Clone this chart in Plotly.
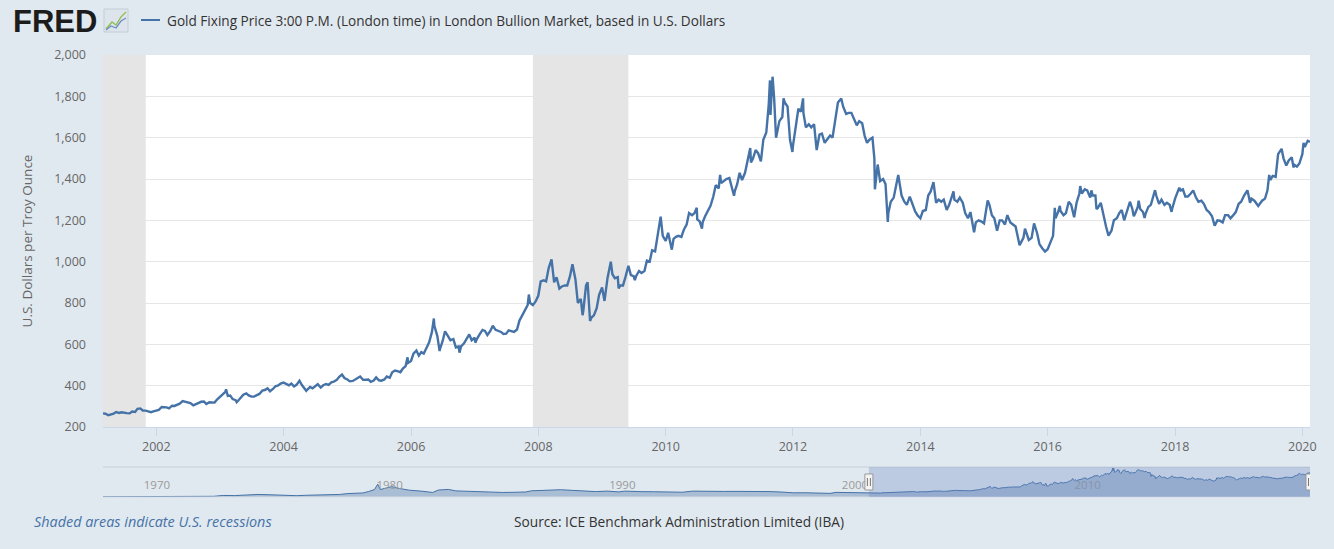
import plotly.graph_objects as go

# ---------------- data ----------------
dates = [
    # 2001
    "2001-03-01","2001-03-15","2001-04-01","2001-04-15","2001-05-01","2001-05-15","2001-06-01","2001-06-15",
    "2001-07-01","2001-07-15","2001-08-01","2001-08-15","2001-09-01","2001-09-15","2001-10-01","2001-10-15",
    "2001-11-01","2001-11-15","2001-12-01","2001-12-15",
    # 2002
    "2002-01-01","2002-01-15","2002-02-01","2002-02-15","2002-03-01","2002-03-15","2002-04-01","2002-04-15",
    "2002-05-01","2002-05-15","2002-06-01","2002-06-15","2002-07-01","2002-07-15","2002-08-01","2002-08-15",
    "2002-09-01","2002-09-15","2002-10-01","2002-10-15","2002-11-01","2002-11-15","2002-12-01","2002-12-15",
    # 2003
    "2003-01-01","2003-01-15","2003-02-01","2003-02-05","2003-02-15","2003-03-01","2003-03-15","2003-04-01",
    "2003-04-07","2003-04-15","2003-05-01","2003-05-15","2003-06-01","2003-06-15","2003-07-01","2003-07-15",
    "2003-08-01","2003-08-15","2003-09-01","2003-09-15","2003-10-01","2003-10-15","2003-11-01","2003-11-15",
    "2003-12-01","2003-12-15",
    # 2004
    "2004-01-01","2004-01-15","2004-02-01","2004-02-15","2004-03-01","2004-03-15","2004-04-01","2004-04-15",
    "2004-05-01","2004-05-10","2004-05-15","2004-06-01","2004-06-15","2004-07-01","2004-07-15","2004-08-01",
    "2004-08-15","2004-09-01","2004-09-15","2004-10-01","2004-10-15","2004-11-01","2004-11-15","2004-12-01",
    "2004-12-15",
    # 2005
    "2005-01-01","2005-01-15","2005-02-01","2005-02-15","2005-03-01","2005-03-15","2005-04-01","2005-04-15",
    "2005-05-01","2005-05-15","2005-06-01","2005-06-15","2005-07-01","2005-07-15","2005-08-01","2005-08-15",
    "2005-09-01","2005-09-15","2005-10-01","2005-10-15","2005-11-01","2005-11-15","2005-12-01","2005-12-12",
    "2005-12-15",
    # 2006
    "2006-01-01","2006-01-15","2006-02-01","2006-02-15","2006-03-01","2006-03-15","2006-04-01","2006-04-15",
    "2006-05-01","2006-05-12","2006-05-15","2006-06-01","2006-06-14","2006-06-15","2006-07-01","2006-07-15",
    "2006-08-01","2006-08-15","2006-09-01","2006-09-15","2006-10-01","2006-10-06","2006-10-15","2006-11-01",
    "2006-11-15","2006-12-01","2006-12-15",
    # 2007
    "2007-01-01","2007-01-05","2007-01-15","2007-02-01","2007-02-15","2007-03-01","2007-03-15","2007-04-01",
    "2007-04-15","2007-05-01","2007-05-15","2007-06-01","2007-06-15","2007-07-01","2007-07-15","2007-08-01",
    "2007-08-15","2007-09-01","2007-09-15","2007-10-01","2007-10-15","2007-11-01","2007-11-08","2007-11-15",
    "2007-12-01","2007-12-15",
    # 2008
    "2008-01-01","2008-01-15","2008-02-01","2008-02-15","2008-03-01","2008-03-17","2008-04-01","2008-04-15",
    "2008-05-01","2008-05-15","2008-06-01","2008-06-15","2008-07-01","2008-07-15","2008-08-01","2008-08-15",
    "2008-09-01","2008-09-11","2008-09-15","2008-10-01","2008-10-10","2008-10-15","2008-10-24","2008-11-01",
    "2008-11-15","2008-12-01","2008-12-15",
    # 2009
    "2009-01-01","2009-01-15","2009-02-01","2009-02-20","2009-03-01","2009-03-15","2009-04-01","2009-04-06",
    "2009-04-15","2009-05-01","2009-05-15","2009-06-01","2009-06-15","2009-07-01","2009-07-08","2009-07-15",
    "2009-08-01","2009-08-15","2009-09-01","2009-09-15","2009-10-01","2009-10-15","2009-11-01","2009-11-15",
    "2009-12-01","2009-12-03","2009-12-15",
    # 2010
    "2010-01-01","2010-01-15","2010-02-01","2010-02-05","2010-02-15","2010-03-01","2010-03-15","2010-04-01",
    "2010-04-15","2010-05-01","2010-05-15","2010-06-01","2010-06-15","2010-06-28","2010-07-01","2010-07-15",
    "2010-07-28","2010-08-01","2010-08-15","2010-09-01","2010-09-15","2010-10-01","2010-10-15","2010-11-01",
    "2010-11-09","2010-11-15","2010-12-01","2010-12-15",
    # 2011
    "2011-01-01","2011-01-15","2011-01-28","2011-02-01","2011-02-15","2011-03-01","2011-03-15","2011-04-01",
    "2011-04-15","2011-05-01","2011-05-05","2011-05-15","2011-06-01","2011-06-15","2011-07-01","2011-07-15",
    "2011-08-01","2011-08-15","2011-08-22","2011-08-25","2011-09-01","2011-09-06","2011-09-15","2011-09-26",
    "2011-10-01","2011-10-15","2011-11-01","2011-11-08","2011-11-15","2011-12-01","2011-12-15","2011-12-29",
    # 2012
    "2012-01-01","2012-01-15","2012-02-01","2012-02-15","2012-02-28","2012-03-01","2012-03-15","2012-04-01",
    "2012-04-15","2012-05-01","2012-05-16","2012-06-01","2012-06-15","2012-07-01","2012-07-15","2012-08-01",
    "2012-08-15","2012-09-01","2012-09-15","2012-10-04","2012-10-15","2012-11-01","2012-11-15","2012-12-01",
    "2012-12-15",
    # 2013
    "2013-01-01","2013-01-15","2013-02-01","2013-02-15","2013-03-01","2013-03-15","2013-04-01","2013-04-12",
    "2013-04-15","2013-05-01","2013-05-15","2013-06-01","2013-06-15","2013-06-28","2013-07-01","2013-07-15",
    "2013-08-01","2013-08-27","2013-09-01","2013-09-15","2013-10-01","2013-10-15","2013-11-01","2013-11-15",
    "2013-12-01","2013-12-15",
    # 2014
    "2014-01-01","2014-01-15","2014-02-01","2014-02-15","2014-03-01","2014-03-17","2014-04-01","2014-04-15",
    "2014-05-01","2014-05-15","2014-06-01","2014-06-15","2014-07-01","2014-07-10","2014-07-15","2014-08-01",
    "2014-08-15","2014-09-01","2014-09-15","2014-10-01","2014-10-15","2014-11-01","2014-11-05","2014-11-15",
    "2014-12-01","2014-12-15",
    # 2015
    "2015-01-01","2015-01-15","2015-01-22","2015-02-01","2015-02-15","2015-03-01","2015-03-17","2015-04-01",
    "2015-04-15","2015-05-01","2015-05-15","2015-06-01","2015-06-15","2015-07-01","2015-07-24","2015-08-01",
    "2015-08-15","2015-08-24","2015-09-01","2015-09-15","2015-10-01","2015-10-15","2015-11-01","2015-11-15",
    "2015-12-01","2015-12-17",
    # 2016
    "2016-01-01","2016-01-15","2016-02-01","2016-02-11","2016-02-15","2016-03-01","2016-03-11","2016-03-15",
    "2016-04-01","2016-04-15","2016-05-01","2016-05-15","2016-06-01","2016-06-15","2016-07-01","2016-07-06",
    "2016-07-15","2016-08-01","2016-08-15","2016-09-01","2016-09-08","2016-09-15","2016-10-01","2016-10-07",
    "2016-10-15","2016-11-01","2016-11-15","2016-12-01","2016-12-15",
    # 2017
    "2017-01-01","2017-01-15","2017-02-01","2017-02-15","2017-03-01","2017-03-15","2017-04-01","2017-04-17",
    "2017-05-01","2017-05-09","2017-05-15","2017-06-01","2017-06-06","2017-06-15","2017-07-01","2017-07-10",
    "2017-07-15","2017-08-01","2017-08-15","2017-09-01","2017-09-08","2017-09-15","2017-10-01","2017-10-15",
    "2017-11-01","2017-11-15","2017-12-01","2017-12-12","2017-12-15",
    # 2018
    "2018-01-01","2018-01-25","2018-02-01","2018-02-15","2018-03-01","2018-03-15","2018-04-01","2018-04-15",
    "2018-05-01","2018-05-15","2018-06-01","2018-06-15","2018-07-01","2018-07-15","2018-08-01","2018-08-16",
    "2018-09-01","2018-09-15","2018-10-01","2018-10-15","2018-11-01","2018-11-15","2018-12-01","2018-12-15",
    # 2019
    "2019-01-01","2019-01-15","2019-02-01","2019-02-20","2019-03-01","2019-03-07","2019-03-15","2019-04-01",
    "2019-04-23","2019-05-01","2019-05-15","2019-06-01","2019-06-15","2019-06-25","2019-07-01","2019-07-15",
    "2019-08-01","2019-08-15","2019-09-04","2019-09-15","2019-10-01","2019-10-15","2019-11-01","2019-11-12",
    "2019-11-15","2019-12-01","2019-12-15",
    # 2020
    "2020-01-01","2020-01-08","2020-01-15","2020-02-01","2020-02-14",
]

prices = [
    # 2001
    266, 264, 257, 260, 264, 272, 268, 271, 267, 267, 266, 275, 273, 288, 290, 280, 279, 274, 272, 276,
    # 2002
    278, 283, 297, 297, 295, 290, 303, 302, 309, 313, 325, 322, 317, 316, 305, 311, 315, 322, 323, 311,
    320, 319, 318, 333,
    # 2003
    345, 357, 370, 382, 350, 352, 335, 330, 320, 327, 340, 356, 363, 353, 347, 347, 354, 360, 376, 379,
    387, 373, 384, 397, 401, 410,
    # 2004
    415, 410, 402, 410, 396, 404, 424, 403, 385, 375, 380, 394, 387, 396, 407, 391, 402, 408, 404, 416,
    419, 428, 443, 454, 437,
    # 2005
    430, 421, 423, 429, 436, 444, 428, 429, 430, 419, 425, 440, 426, 424, 430, 444, 438, 465, 473, 470,
    465, 483, 495, 537, 510,
    # 2006
    520, 555, 570, 545, 562, 555, 585, 610, 660, 725, 690, 640, 567, 575, 615, 663, 640, 620, 625, 585,
    590, 560, 590, 605, 625, 648, 620,
    # 2007
    632, 608, 628, 652, 670, 665, 645, 665, 690, 670, 665, 660, 650, 652, 668, 665, 660, 672, 715, 740,
    760, 790, 841, 800, 790, 805,
    # 2008
    835, 905, 910, 905, 970, 1011, 900, 925, 870, 880, 885, 885, 930, 988, 915, 800, 820, 741, 760, 885,
    900, 840, 713, 730, 740, 775, 840,
    # 2009
    875, 810, 920, 1000, 940, 920, 925, 870, 885, 885, 925, 980, 935, 930, 910, 930, 955, 945, 955, 1005,
    1000, 1055, 1050, 1120, 1195, 1218, 1125,
    # 2010
    1100, 1140, 1085, 1058, 1110, 1120, 1125, 1120, 1155, 1180, 1235, 1225, 1235, 1261, 1205, 1195,
    1160, 1190, 1220, 1250, 1270, 1315, 1370, 1355, 1420, 1380, 1390, 1400,
    # 2011
    1405, 1365, 1319, 1340, 1375, 1430, 1395, 1430, 1480, 1550, 1480, 1495, 1540, 1525, 1485, 1590,
    1625, 1760, 1877, 1710, 1825, 1895, 1790, 1600, 1620, 1680, 1700, 1790, 1770, 1750, 1590, 1531,
    # 2012
    1560, 1640, 1740, 1725, 1790, 1720, 1650, 1665, 1650, 1665, 1540, 1615, 1620, 1575, 1590, 1610,
    1600, 1690, 1770, 1790, 1750, 1715, 1720, 1720, 1695,
    # 2013
    1660, 1680, 1670, 1610, 1575, 1590, 1600, 1500, 1350, 1470, 1390, 1400, 1375, 1192, 1235, 1290,
    1310, 1420, 1395, 1320, 1290, 1275, 1315, 1280, 1245, 1225,
    # 2014
    1210, 1245, 1250, 1320, 1340, 1385, 1285, 1300, 1290, 1300, 1250, 1275, 1325, 1340, 1300, 1290,
    1310, 1285, 1235, 1210, 1240, 1165, 1142, 1190, 1200, 1195,
    # 2015
    1185, 1260, 1296, 1275, 1225, 1210, 1150, 1200, 1200, 1180, 1225, 1190, 1180, 1170, 1080, 1095,
    1115, 1160, 1135, 1105, 1115, 1185, 1140, 1085, 1065, 1049,
    # 2016
    1060, 1090, 1125, 1260, 1210, 1240, 1270, 1245, 1225, 1235, 1290, 1275, 1215, 1285, 1330, 1366,
    1330, 1350, 1345, 1310, 1345, 1320, 1320, 1255, 1260, 1285, 1225, 1170, 1126,
    # 2017
    1150, 1200, 1210, 1235, 1250, 1200, 1245, 1290, 1255, 1220, 1230, 1265, 1295, 1255, 1240, 1211,
    1230, 1265, 1275, 1320, 1346, 1320, 1280, 1300, 1275, 1285, 1275, 1241, 1255,
    # 2018
    1305, 1358, 1345, 1350, 1315, 1315, 1330, 1345, 1310, 1290, 1295, 1280, 1250, 1240, 1220, 1174,
    1200, 1198, 1190, 1225, 1225, 1210, 1225, 1240,
    # 2019
    1280, 1290, 1320, 1345, 1310, 1285, 1305, 1295, 1270, 1280, 1295, 1305, 1345, 1420, 1395, 1415,
    1410, 1520, 1546, 1500, 1465, 1490, 1505, 1455, 1470, 1460, 1475,
    # 2020
    1520, 1575, 1555, 1585, 1580,
]

# longer history shown only in the navigator strip
nav_dates = [
    "1968-04-01","1968-12-01","1969-06-01","1969-12-01","1970-06-01","1971-01-01","1971-06-01","1972-01-01",
    "1972-06-01","1973-01-01","1973-06-01","1973-12-01","1974-06-01","1974-12-01","1975-06-01","1975-12-01",
    "1976-08-01","1977-01-01","1977-06-01","1977-12-01","1978-06-01","1978-10-01","1979-03-01","1979-06-01",
    "1979-09-01","1979-12-01","1980-01-21","1980-03-01","1980-06-01","1980-09-01","1980-12-01","1981-06-01",
    "1981-12-01","1982-06-01","1982-09-01","1983-02-01","1983-06-01","1983-12-01","1984-06-01","1984-12-01",
    "1985-02-01","1985-06-01","1985-12-01","1986-06-01","1986-09-01","1987-06-01","1987-12-01","1988-06-01",
    "1988-12-01","1989-06-01","1989-12-01","1990-06-01","1990-09-01","1990-12-01","1991-06-01","1991-12-01",
    "1992-06-01","1992-12-01","1993-03-01","1993-08-01","1993-12-01","1994-06-01","1994-12-01","1995-06-01",
    "1995-12-01","1996-02-01","1996-06-01","1996-12-01","1997-06-01","1997-12-01","1998-06-01","1998-12-01",
    "1999-07-01","1999-10-01","2000-02-01","2000-06-01","2000-12-01","2001-02-01",
]
nav_prices = [
    38, 41, 41, 35, 35, 38, 40, 46,
    60, 65, 120, 110, 150, 185, 165, 140,
    105, 133, 142, 162, 184, 240, 243, 280,
    375, 500, 850, 500, 600, 690, 590, 460,
    400, 315, 470, 510, 415, 380, 375, 320,
    290, 315, 325, 345, 420, 450, 490, 450,
    420, 370, 400, 350, 400, 380, 365, 360,
    340, 335, 330, 400, 385, 385, 380, 385,
    387, 410, 385, 370, 340, 290, 295, 290,
    255, 320, 305, 285, 270, 265,
]

recessions = [("2001-03-01", "2001-11-01"), ("2007-12-01", "2009-06-01")]

x_tick_years = [2002, 2004, 2006, 2008, 2010, 2012, 2014, 2016, 2018, 2020]
y_ticks = [200, 400, 600, 800, 1000, 1200, 1400, 1600, 1800, 2000]
nav_tick_years = [1970, 1980, 1990, 2000, 2010]

series_name = "Gold Fixing Price 3:00 P.M. (London time) in London Bullion Market, based in U.S. Dollars"
y_title = "U.S. Dollars per Troy Ounce"
note_text = "Shaded areas indicate U.S. recessions"
source_text = "Source: ICE Benchmark Administration Limited (IBA)"

# ---------------- styling ----------------
W, H = 1334, 549
ML, MR, MT, MB = 103, 24, 55, 52
PW, PH = W - ML - MR, H - MT - MB
BG = "#e1e9f0"
LINE = "#4572a7"
FONT = "Open Sans, Liberation Sans, Arial, sans-serif"
Y_MIN, Y_MAX = 200, 2000


def px_x(px):
    return (px - ML) / PW


def px_y(py):
    return (H - MB - py) / PH


main_bottom = px_y(427)
nav_top = px_y(467)

x_start, x_end = dates[0], "2020-02-14"
nav_start = nav_dates[0]

fig = go.Figure()

# recession bands as filled traces (drawn above the grid, below the series)
for a, b in recessions:
    fig.add_trace(go.Scatter(
        x=[a, a, b, b, a], y=[Y_MIN, Y_MAX, Y_MAX, Y_MIN, Y_MIN], mode="lines",
        fill="toself", fillcolor="#e5e5e5", line=dict(width=0, color="rgba(0,0,0,0)"),
        xaxis="x", yaxis="y", showlegend=False, hoverinfo="skip",
    ))

fig.add_trace(go.Scatter(
    x=dates, y=prices, mode="lines", name=series_name,
    line=dict(color=LINE, width=2.4), xaxis="x", yaxis="y",
    showlegend=False, hoverinfo="x+y",
))

fig.add_trace(go.Scatter(
    x=nav_dates + dates, y=nav_prices + prices, mode="lines",
    line=dict(color=LINE, width=1), fill="tozeroy",
    fillcolor="rgba(69,114,167,0.36)", xaxis="x2", yaxis="y2",
    showlegend=False, hoverinfo="skip",
))

shapes = []
# white plotting area for the main chart
shapes.append(dict(type="rect", xref="x domain", yref="y domain", x0=0, x1=1, y0=0, y1=1,
                   fillcolor="white", line=dict(width=0), layer="below"))
# navigator outline lines
shapes.append(dict(type="line", xref="x2 domain", yref="y2 domain", x0=0, x1=1, y0=1, y1=1,
                   line=dict(color="#c9ced6", width=1), layer="above"))
shapes.append(dict(type="line", xref="x2 domain", yref="y2 domain", x0=0, x1=1, y0=0, y1=0,
                   line=dict(color="#d5dbe3", width=1), layer="above"))
# navigator selected-range mask
shapes.append(dict(type="rect", xref="x2", yref="y2 domain", x0=x_start, x1=x_end, y0=0, y1=1,
                   fillcolor="rgba(102,133,194,0.30)", line=dict(width=0), layer="above"))
# navigator handles
for hx in (x_start, x_end):
    shapes.append(dict(type="rect", xref="x2", yref="y2 domain", xsizemode="pixel", ysizemode="pixel",
                       xanchor=hx, yanchor=0.5, x0=-4, x1=4, y0=-8, y1=8,
                       fillcolor="#f4f4f4", line=dict(color="#999999", width=1), layer="above"))
    for dx in (-1.5, 1.5):
        shapes.append(dict(type="line", xref="x2", yref="y2 domain", xsizemode="pixel", ysizemode="pixel",
                           xanchor=hx, yanchor=0.5, x0=dx, x1=dx, y0=-4, y1=4,
                           line=dict(color="#777777", width=1), layer="above"))
# legend line sample in the header
shapes.append(dict(type="line", xref="paper", yref="paper", x0=px_x(141), x1=px_x(160),
                   y0=px_y(20), y1=px_y(20), line=dict(color=LINE, width=2)))
# small FRED graph icon
shapes.append(dict(type="rect", xref="paper", yref="paper", x0=px_x(104), x1=px_x(128),
                   y0=px_y(32), y1=px_y(9), fillcolor="#dde4ec", line=dict(color="#c3ccd7", width=1)))
icon_green = "M {} {} L {} {} L {} {} L {} {} L {} {}".format(
    px_x(106), px_y(29), px_x(112), px_y(22), px_x(116), px_y(25), px_x(121), px_y(17), px_x(126), px_y(12))
icon_blue = "M {} {} L {} {} L {} {} L {} {} L {} {}".format(
    px_x(106), px_y(30), px_x(111), px_y(26), px_x(116), px_y(28), px_x(121), px_y(21), px_x(126), px_y(18))
shapes.append(dict(type="path", xref="paper", yref="paper", path=icon_green,
                   line=dict(color="#8fbf4f", width=1.3)))
shapes.append(dict(type="path", xref="paper", yref="paper", path=icon_blue,
                   line=dict(color="#6d8fc0", width=1.3)))

annotations = [
    dict(text="<b>FRED</b>", x=px_x(11), y=px_y(21), xref="paper", yref="paper",
         xanchor="left", yanchor="middle", showarrow=False,
         font=dict(family="Liberation Sans, Arial, sans-serif", size=31, color="#1c1c1c")),
    dict(text=series_name, x=px_x(165), y=px_y(20), xref="paper", yref="paper",
         xanchor="left", yanchor="middle", showarrow=False,
         font=dict(family=FONT, size=13.6, color="#333333")),
    dict(text="<i>" + note_text + "</i>", x=px_x(32), y=px_y(521), xref="paper", yref="paper",
         xanchor="left", yanchor="middle", showarrow=False,
         font=dict(family=FONT, size=14.4, color="#4572a7")),
    dict(text=source_text, x=px_x(512), y=px_y(521), xref="paper", yref="paper",
         xanchor="left", yanchor="middle", showarrow=False,
         font=dict(family=FONT, size=13.7, color="#333333")),
]

fig.update_layout(
    width=W, height=H,
    margin=dict(l=ML, r=MR, t=MT, b=MB, autoexpand=False),
    paper_bgcolor=BG, plot_bgcolor="rgba(0,0,0,0)",
    font=dict(family=FONT, color="#666666", size=12.5),
    showlegend=False,
    xaxis=dict(
        type="date", domain=[0, 1], anchor="y", range=[x_start, x_end],
        tickvals=[f"{y}-01-01" for y in x_tick_years], ticktext=[str(y) for y in x_tick_years],
        ticks="outside", ticklen=8, tickcolor="#ccd6eb", tickwidth=1,
        showline=True, linecolor="#ccd6eb", linewidth=1,
        showgrid=False, zeroline=False, fixedrange=True,
        tickfont=dict(size=12.5, color="#666666"),
    ),
    yaxis=dict(
        domain=[main_bottom, 1], anchor="x", range=[Y_MIN, Y_MAX],
        tickvals=y_ticks, tickformat=",d",
        showgrid=True, gridcolor="#e6e6e6", gridwidth=1,
        zeroline=False, showline=False, ticks="", ticklabelstandoff=16,
        tickfont=dict(size=12.5, color="#666666"), fixedrange=True,
        title=dict(text=y_title, font=dict(size=13.5, color="#666666"), standoff=18),
    ),
    xaxis2=dict(
        type="date", domain=[0, 1], anchor="y2", range=[nav_start, x_end],
        tickvals=[f"{y}-01-01" for y in nav_tick_years], ticktext=[str(y) for y in nav_tick_years],
        ticklabelposition="inside right", ticks="", showline=False, showgrid=False,
        zeroline=False, fixedrange=True, tickfont=dict(size=11.5, color="#9a9a9a"),
    ),
    yaxis2=dict(
        domain=[0, nav_top], anchor="x2", range=[20, 1960], visible=False, fixedrange=True,
    ),
    shapes=shapes,
    annotations=annotations,
)

fig.write_html("out.html", config={"displayModeBar": False})
